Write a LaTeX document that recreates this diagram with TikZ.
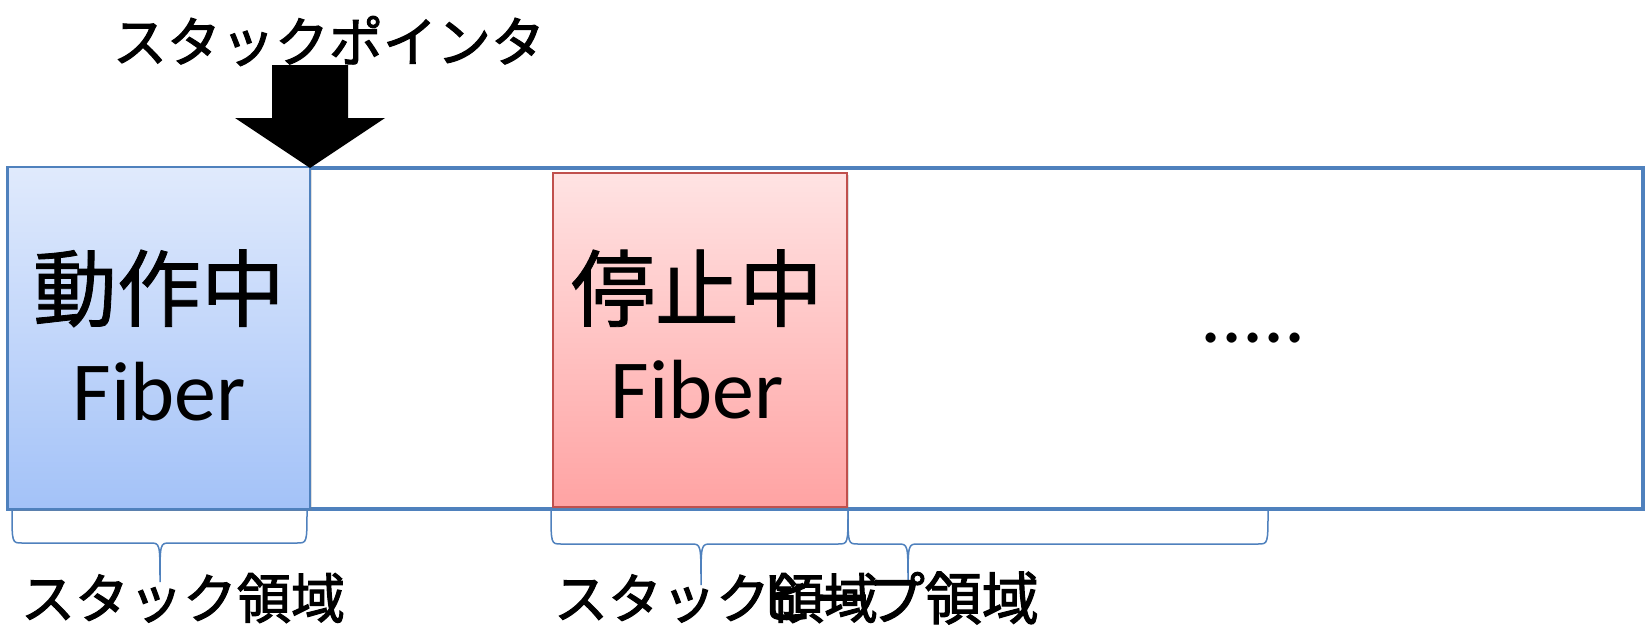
\documentclass[tikz,border=0pt]{standalone}
\usepackage{fontspec}
\setmainfont{Carlito}
\newfontfamily\jp[FakeBold=1]{Noto Sans CJK JP}
\newfontfamily\jplbl[FakeBold=2]{Noto Sans CJK JP}
\usetikzlibrary{shadows}
\definecolor{accblue}{HTML}{4F81BD}
\definecolor{accred}{HTML}{C0504D}
\definecolor{bluetop}{HTML}{E0EAFC}
\definecolor{bluebot}{HTML}{A3C2F8}
\definecolor{redtop}{HTML}{FFE3E3}
\definecolor{redbot}{HTML}{FFA3A3}
\begin{document}
\begin{tikzpicture}[x=1pt,y=-1pt,
  lbl/.style={font=\jplbl\fontsize{54}{54}\selectfont, inner sep=0pt},
  bigtxt/.style={font=\fontsize{84}{84}\selectfont, inner sep=0pt, anchor=base},
  bigjp/.style={font=\jp\fontsize{84}{84}\selectfont, inner sep=0pt, anchor=base},
  bracestyle/.style={draw=accblue, line width=1.5pt},
  fiberbox/.style={rectangle, inner sep=0pt, outer sep=0pt, anchor=north west,
    drop shadow={opacity=0.25, shadow xshift=1.5pt, shadow yshift=-2pt}},
]
\useasboundingbox (0,0) rectangle (1645,629);
\fill[white] (0,0) rectangle (1645,629);
% memory area
\node[draw=accblue, line width=4pt, inner sep=0pt, outer sep=0pt, anchor=north west,
      minimum width=1635pt, minimum height=341pt] (mem) at (8,168) {};
% running fiber
\node[fiberbox, draw=accblue, line width=2.5pt, top color=bluetop, bottom color=bluebot,
      minimum width=302pt, minimum height=342pt] (run) at (8,167) {};
% stopped fiber
\node[fiberbox, draw=accred, line width=2pt, top color=redtop, bottom color=redbot,
      minimum width=294pt, minimum height=334pt] (stop) at (553,173) {};
% texts in boxes
\node[bigjp] (t1) at (159,320) {動作中};
\node[bigtxt] (f1) at (159,420) {Fiber};
\node[bigjp] (t2) at (697,320) {停止中};
\node[bigtxt] (f2) at (697,418) {Fiber};
\node[bigtxt] (dots) at (1253,342) {.....};
% stack pointer
\node[lbl] (sptext) at (329,41) {スタックポインタ};
\coordinate (sp) at (310,168);
\fill[black] (sp) -- ++(-75,-50) -- ++(37,0) -- ++(0,-53) -- ++(76,0) -- ++(0,53) -- ++(37,0) -- cycle;
% braces
\draw[bracestyle] (12,510) .. controls (12,543) .. (22,543) -- (150,543)
  .. controls (160,543) .. (160,582) .. controls (160,543) .. (170,543) -- (297,543)
  .. controls (307,543) .. (307,510);
\draw[bracestyle] (551,510) .. controls (551,544) .. (561,544) -- (691,544)
  .. controls (701,544) .. (701,585) .. controls (701,544) .. (711,544) -- (838,544)
  .. controls (848,544) .. (848,510);
\draw[bracestyle] (848,510) .. controls (848,544) .. (858,544) -- (898,544)
  .. controls (908,544) .. (908,585) .. controls (908,544) .. (918,544) -- (1258,544)
  .. controls (1268,544) .. (1268,510);
% bottom labels
\node[lbl] (l1) at (183,598) {スタック領域};
\node[lbl] (l2) at (716,598) {スタック領域};
\node[lbl, font=\jplbl\fontsize{57}{57}\selectfont] (l3) at (898,598) {ヒープ領域};
\end{tikzpicture}
\end{document}
